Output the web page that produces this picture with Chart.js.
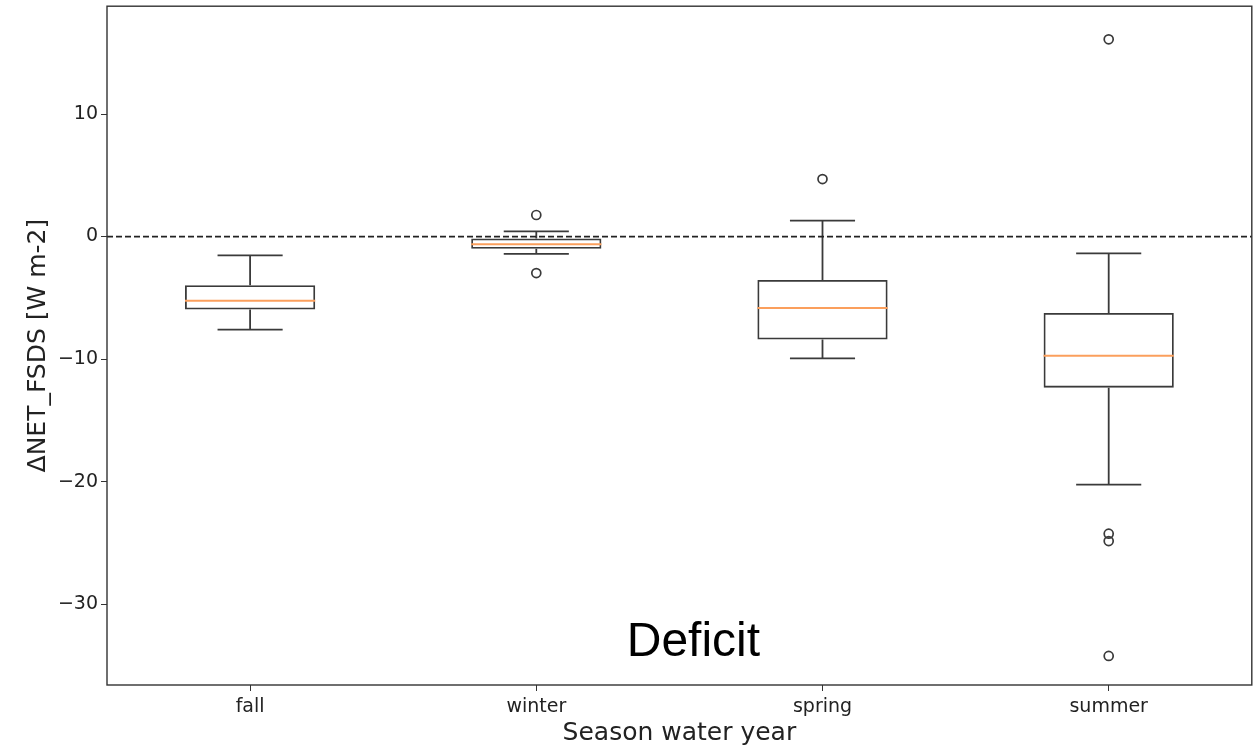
<!DOCTYPE html>
<html>
<head>
<meta charset="utf-8">
<script src="https://cdn.jsdelivr.net/npm/chart.js@4/dist/chart.umd.min.js"></script>
<style>
  html, body { margin: 0; padding: 0; background: #fff; }
  #wrap { width: 1258px; height: 748px; }
</style>
</head>
<body>
<div id="wrap"><canvas id="c" width="1258" height="748"></canvas></div>
<script>
// ---- data ----
const categories  = ['fall', 'winter', 'spring', 'summer'];
const q1          = [-5.96, -1.00, -8.40, -12.33];
const q3          = [-3.98, -0.15, -3.55,  -6.23];
const medians     = [-5.23, -0.62, -5.83,  -9.73];
const whiskerLow  = [-7.59, -1.41, -9.95, -20.24];
const whiskerHigh = [-1.54,  0.43,  1.30,  -1.38];
const outliersFall   = [];
const outliersWinter = [1.76, -2.98];
const outliersSpring = [4.69];
const outliersSummer = [16.1, -24.25, -24.85, -34.23];
const yTicks = [-30, -20, -10, 0, 10];
const yMin = -36.6, yMax = 18.8;
const annotationText = 'Deficit';

const outlierPoints = [];
[outliersFall, outliersWinter, outliersSpring, outliersSummer].forEach((arr, i) => {
  arr.forEach(v => outlierPoints.push({ x: categories[i], y: v }));
});

const boxPlugin = {
  id: 'boxExtras',
  afterDatasetsDraw(chart) {
    const { ctx, chartArea, scales } = chart;
    const x = scales.x, y = scales.y;
    const meta = chart.getDatasetMeta(0);
    ctx.save();
    meta.data.forEach((bar, i) => {
      const cx = bar.x;
      const half = bar.width / 2;
      const capHalf = half / 2;
      ctx.strokeStyle = '#3a3a3a';
      ctx.lineWidth = 1.8;
      ctx.beginPath();
      ctx.moveTo(cx, y.getPixelForValue(q3[i]));
      ctx.lineTo(cx, y.getPixelForValue(whiskerHigh[i]));
      ctx.moveTo(cx - capHalf, y.getPixelForValue(whiskerHigh[i]));
      ctx.lineTo(cx + capHalf, y.getPixelForValue(whiskerHigh[i]));
      ctx.moveTo(cx, y.getPixelForValue(q1[i]));
      ctx.lineTo(cx, y.getPixelForValue(whiskerLow[i]));
      ctx.moveTo(cx - capHalf, y.getPixelForValue(whiskerLow[i]));
      ctx.lineTo(cx + capHalf, y.getPixelForValue(whiskerLow[i]));
      ctx.stroke();
      ctx.strokeStyle = '#fb9f5c';
      ctx.lineWidth = 2;
      ctx.beginPath();
      ctx.moveTo(cx - half, y.getPixelForValue(medians[i]));
      ctx.lineTo(cx + half, y.getPixelForValue(medians[i]));
      ctx.stroke();
    });
    ctx.strokeStyle = '#222';
    ctx.lineWidth = 1.8;
    ctx.setLineDash([6, 3]);
    ctx.beginPath();
    const y0 = y.getPixelForValue(0);
    ctx.moveTo(chartArea.left, y0);
    ctx.lineTo(chartArea.right, y0);
    ctx.stroke();
    ctx.setLineDash([]);
    ctx.strokeStyle = '#333';
    ctx.lineWidth = 1.4;
    ctx.strokeRect(chartArea.left, chartArea.top, chartArea.right - chartArea.left, chartArea.bottom - chartArea.top);
    ctx.fillStyle = '#000';
    ctx.font = '48px "Liberation Sans", Arial, sans-serif';
    ctx.textAlign = 'center';
    ctx.textBaseline = 'alphabetic';
    const ax = (x.getPixelForValue(1) + x.getPixelForValue(2)) / 2 + 14;
    ctx.fillText(annotationText, ax, y.getPixelForValue(-34.2));
    ctx.restore();
  }
};

const tickFont = { family: '"DejaVu Sans", sans-serif', size: 19 };
const titleFont = { family: '"DejaVu Sans", sans-serif', size: 25 };

new Chart(document.getElementById('c'), {
  type: 'bar',
  data: {
    labels: categories,
    datasets: [
      {
        type: 'bar',
        data: q1.map((v, i) => [v, q3[i]]),
        backgroundColor: 'rgba(0,0,0,0)',
        borderColor: '#3a3a3a',
        borderWidth: 1.8,
        borderSkipped: false,
        barPercentage: 0.455,
        categoryPercentage: 1.0,
        order: 2
      },
      {
        type: 'line',
        data: outlierPoints,
        showLine: false,
        pointStyle: 'circle',
        pointRadius: 4.5,
        pointBorderWidth: 1.7,
        pointBackgroundColor: 'rgba(255,255,255,0)',
        pointBorderColor: '#3a3a3a',
        order: 1
      }
    ]
  },
  options: {
    responsive: false,
    animation: false,
    events: [],
    layout: { padding: { top: 4, right: 6, left: 0, bottom: 0 } },
    plugins: { legend: { display: false }, tooltip: { enabled: false } },
    scales: {
      x: {
        type: 'category',
        offset: true,
        grid: { display: true, drawOnChartArea: false, drawTicks: true, tickLength: 6, color: '#333', offset: false },
        border: { display: false },
        ticks: { color: '#222', font: tickFont, padding: 5, maxRotation: 0 },
        title: { display: true, text: 'Season water year', color: '#222', font: titleFont, padding: { top: 0, bottom: 0 } },
        afterFit(s) { s.height = 63; s.paddingLeft = 0; s.paddingRight = 0; }
      },
      y: {
        type: 'linear',
        min: yMin,
        max: yMax,
        afterBuildTicks(s) { s.ticks = yTicks.map(v => ({ value: v })); },
        grid: { display: true, drawOnChartArea: false, drawTicks: true, tickLength: 6, color: '#333' },
        border: { display: false },
        ticks: {
          color: '#222', font: tickFont, padding: 3,
          callback: v => String(v).replace('-', '\u2212')
        },
        title: { display: true, text: '\u0394NET_FSDS [W m-2]', color: '#222', font: titleFont, padding: { top: 23, bottom: 0 } },
        afterFit(s) { s.width = 107; s.paddingTop = 0; s.paddingBottom = 0; }
      }
    }
  },
  plugins: [boxPlugin]
});
</script>
</body>
</html>
